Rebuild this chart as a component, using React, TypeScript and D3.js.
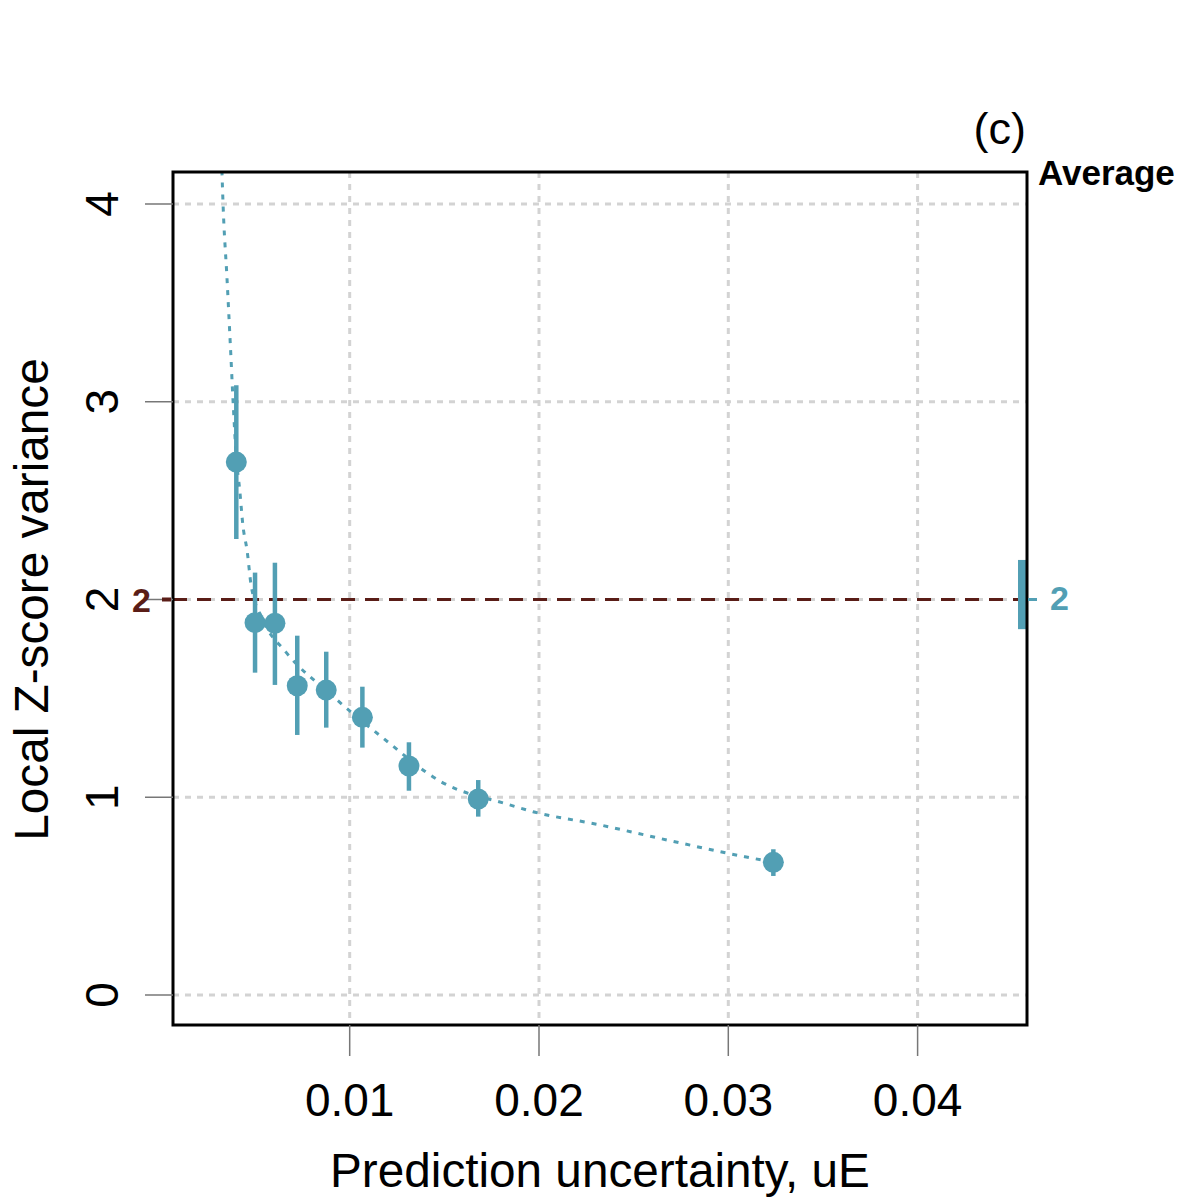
import { useEffect, useRef } from "react"
import * as d3 from "d3"

// bin centres (prediction uncertainty) and local Z-score variance with error bars
const uE = [0.00401, 0.005, 0.00605, 0.00723, 0.00876, 0.01067, 0.01313, 0.01679, 0.03238]
const zVar = [2.695, 1.883, 1.88, 1.564, 1.542, 1.404, 1.158, 0.991, 0.671]
const zLo = [2.306, 1.63, 1.568, 1.315, 1.352, 1.251, 1.033, 0.902, 0.602]
const zHi = [3.084, 2.136, 2.186, 1.817, 1.736, 1.559, 1.278, 1.087, 0.737]

// smooth dotted trend
const trendX = [0.00325, 0.00331, 0.00352, 0.00371, 0.00384, 0.00401, 0.00419, 0.00436, 0.00458, 0.0048, 0.0054, 0.00662, 0.009, 0.01178, 0.01485, 0.01829, 0.01968, 0.02322, 0.02675, 0.03088, 0.03236]
const trendY = [4.17, 4.0, 3.621, 3.259, 3.001, 2.72, 2.554, 2.374, 2.247, 2.068, 1.9, 1.735, 1.52, 1.298, 1.077, 0.966, 0.927, 0.86, 0.784, 0.699, 0.672]

// average over the whole set
const avgMean = 2.0
const avgLo = 1.85
const avgHi = 2.2
const avgLabel = "2"
const refValue = 2

const xTicks = [0.01, 0.02, 0.03, 0.04]
const yTicks = [0, 1, 2, 3, 4]

const teal = "#529fb4"
const maroon = "#5a1d17"
const font = "'Liberation Sans', Arial, Helvetica, sans-serif"

export default function App() {
  const svgRef = useRef<SVGSVGElement>(null)

  useEffect(() => {
    if (!svgRef.current) return
    const svg = d3.select(svgRef.current)
    svg.selectAll("*").remove()

    const left = 173, right = 1027, top = 172, bottom = 1025

    const x = d3.scaleLinear().domain([0.000666, 0.045779]).range([left, right])
    const y = d3.scaleLinear().domain([-0.1517, 4.1618]).range([bottom, top])

    svg.append("defs").append("clipPath").attr("id", "plot-clip")
      .append("rect").attr("x", left).attr("y", top).attr("width", right - left).attr("height", bottom - top)

    // grid
    const grid = svg.append("g").attr("stroke", "#d3d3d3").attr("stroke-width", 3).attr("stroke-dasharray", "6,6")
    yTicks.forEach((t) => {
      grid.append("line").attr("x1", left).attr("x2", right).attr("y1", y(t)).attr("y2", y(t))
    })
    xTicks.forEach((t) => {
      grid.append("line").attr("x1", x(t)).attr("x2", x(t)).attr("y1", top).attr("y2", bottom)
    })

    // reference line
    svg.append("line")
      .attr("x1", left).attr("x2", right).attr("y1", y(refValue)).attr("y2", y(refValue))
      .attr("stroke", maroon).attr("stroke-width", 3).attr("stroke-dasharray", "14,10")

    // trend
    const line = d3.line<number>()
      .x((_, i) => x(trendX[i]))
      .y((d) => y(d))
      .curve(d3.curveMonotoneX)
    svg.append("path")
      .attr("clip-path", "url(#plot-clip)")
      .attr("d", line(trendY))
      .attr("fill", "none")
      .attr("stroke", teal)
      .attr("stroke-width", 3)
      .attr("stroke-dasharray", "5,7")

    // error bars + points
    const pts = svg.append("g")
    uE.forEach((u, i) => {
      pts.append("line")
        .attr("x1", x(u)).attr("x2", x(u)).attr("y1", y(zLo[i])).attr("y2", y(zHi[i]))
        .attr("stroke", teal).attr("stroke-width", 4.5)
      pts.append("circle").attr("cx", x(u)).attr("cy", y(zVar[i])).attr("r", 10.5).attr("fill", teal)
    })

    // average bar on the right edge
    svg.append("rect")
      .attr("x", right - 9).attr("width", 9)
      .attr("y", y(avgHi)).attr("height", y(avgLo) - y(avgHi))
      .attr("fill", teal)

    // frame
    svg.append("rect")
      .attr("x", left).attr("y", top).attr("width", right - left).attr("height", bottom - top)
      .attr("fill", "none").attr("stroke", "black").attr("stroke-width", 3)

    // axes ticks
    const axes = svg.append("g").attr("stroke", "#777").attr("stroke-width", 1.5)
    yTicks.forEach((t) => {
      axes.append("line").attr("x1", left - 28).attr("x2", left).attr("y1", y(t)).attr("y2", y(t))
    })
    xTicks.forEach((t) => {
      axes.append("line").attr("x1", x(t)).attr("x2", x(t)).attr("y1", bottom).attr("y2", bottom + 31)
    })

    const txt = svg.append("g").attr("font-family", font).attr("fill", "black")
    xTicks.forEach((t) => {
      txt.append("text").attr("x", x(t)).attr("y", 1116).attr("text-anchor", "middle")
        .attr("font-size", 46).text(String(t))
    })
    yTicks.forEach((t) => {
      txt.append("text").attr("transform", `translate(118,${y(t)}) rotate(-90)`).attr("text-anchor", "middle")
        .attr("font-size", 46).text(String(t))
    })

    txt.append("text").attr("x", (left + right) / 2).attr("y", 1187).attr("text-anchor", "middle")
      .attr("font-size", 47.7).text("Prediction uncertainty, uE")
    txt.append("text").attr("transform", `translate(48,${(top + bottom) / 2 + 1}) rotate(-90)`)
      .attr("text-anchor", "middle").attr("font-size", 47.7).text("Local Z-score variance")

    txt.append("text").attr("x", right - 1).attr("y", 144).attr("text-anchor", "end")
      .attr("font-size", 45).text("(c)")
    txt.append("text").attr("x", 1038).attr("y", 185).attr("font-size", 35).attr("font-weight", "bold")
      .text("Average")

    // reference label on the left
    svg.append("line").attr("x1", left - 11).attr("x2", left - 2).attr("y1", y(refValue)).attr("y2", y(refValue))
      .attr("stroke", maroon).attr("stroke-width", 4)
    svg.append("text").attr("x", 151).attr("y", y(refValue) + 13).attr("text-anchor", "end")
      .attr("font-family", font).attr("font-size", 34).attr("font-weight", "bold").attr("fill", maroon)
      .text(String(refValue))

    // average label on the right
    svg.append("line").attr("x1", right + 1).attr("x2", right + 10).attr("y1", y(avgMean)).attr("y2", y(avgMean))
      .attr("stroke", teal).attr("stroke-width", 3)
    svg.append("text").attr("x", 1050).attr("y", y(avgMean) + 11)
      .attr("font-family", font).attr("font-size", 34).attr("font-weight", "bold").attr("fill", teal)
      .text(avgLabel)
  }, [])

  return (
    <svg
      ref={svgRef}
      width={1200}
      height={1200}
      style={{ position: "absolute", left: 0, top: 0, background: "white" }}
    />
  )
}
